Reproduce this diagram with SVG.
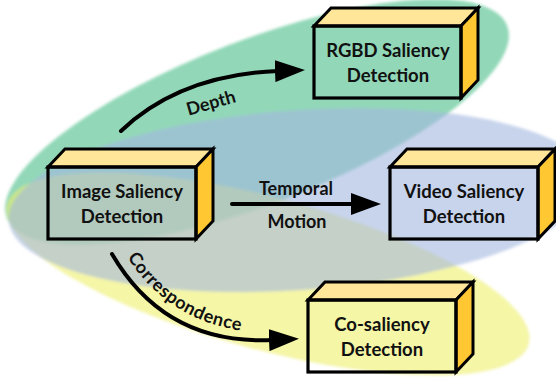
<svg xmlns="http://www.w3.org/2000/svg" width="556" height="379" viewBox="0 0 556 379">
<defs>
<style>
.top{fill:#ffe699;stroke:#000;stroke-width:3;stroke-linejoin:miter}
.side{fill:#ffc833;stroke:#000;stroke-width:3;stroke-linejoin:miter}
.front{fill:none;stroke:#000;stroke-width:3.2}
.lbl{font-family:Lato,"Open Sans","DejaVu Sans",sans-serif;font-weight:bold;font-size:18.5px;fill:#111;text-anchor:middle}
.edge{font-family:Lato,"Open Sans","DejaVu Sans",sans-serif;font-weight:bold;font-size:18px;fill:#111}
.conn{fill:none;stroke:#000;stroke-width:4;stroke-linecap:round}
</style>
<filter id="soft" x="-5%" y="-10%" width="110%" height="120%"><feGaussianBlur stdDeviation="1.5"/></filter>
<marker id="ah" markerUnits="userSpaceOnUse" viewBox="0 0 30 22" markerWidth="30" markerHeight="22" refX="3" refY="11" orient="auto">
<path d="M0,0 L30,11 L0,22 Z" fill="#000"/>
</marker>
</defs>
<g id="regions" filter="url(#soft)">
<ellipse cx="257" cy="122" rx="268" ry="82" transform="rotate(-21 257 122)" fill="#92d8b8"/>
<ellipse cx="268" cy="274" rx="270" ry="76" transform="rotate(15 268 274)" fill="#eef06a" fill-opacity="0.6"/>
<ellipse cx="299" cy="200" rx="291" ry="90" transform="rotate(-4 299 200)" fill="#a3b7df" fill-opacity="0.6"/>
</g>
<g id="connectors">
<path class="conn" d="M121,131 Q180,75 278,71" marker-end="url(#ah)"/>
<path class="conn" d="M232,204 L354,204" marker-end="url(#ah)"/>
<path class="conn" d="M112,254 Q165,345 272,340" marker-end="url(#ah)"/>
<path id="corrPath" d="M124,252 Q172,332 272,333" fill="none"/>
<text class="edge" transform="rotate(-16 211 103)" x="211" y="109" text-anchor="middle">Depth</text>
<text class="edge" x="296" y="195" text-anchor="middle">Temporal</text>
<text class="edge" x="297" y="228" text-anchor="middle">Motion</text>
<text class="edge" letter-spacing="0.6"><textPath href="#corrPath" startOffset="6">Correspondence</textPath></text>
</g>
<g id="image-saliency">
<path class="top" d="M48,167 L65,149 L213,149 L196,167 Z"/>
<path class="side" d="M196,167 L213,149 L213,221 L196,239 Z"/>
<rect class="front" x="48" y="167" width="148" height="72"/>
<text class="lbl" x="122" y="198">Image Saliency</text>
<text class="lbl" x="122" y="223">Detection</text>
</g>
<g id="rgbd-saliency">
<path class="top" d="M314,26 L331,8 L478,8 L461,26 Z"/>
<path class="side" d="M461,26 L478,8 L478,80 L461,98 Z"/>
<rect class="front" x="314" y="26" width="147" height="72"/>
<text class="lbl" x="388" y="57">RGBD Saliency</text>
<text class="lbl" x="388" y="82">Detection</text>
</g>
<g id="video-saliency">
<path class="top" d="M390,167 L407,149 L555,149 L538,167 Z"/>
<path class="side" d="M538,167 L555,149 L555,221 L538,239 Z"/>
<rect class="front" x="390" y="167" width="148" height="72"/>
<text class="lbl" x="464" y="198">Video Saliency</text>
<text class="lbl" x="464" y="223">Detection</text>
</g>
<g id="co-saliency">
<path class="top" d="M308,300 L325,282 L473,282 L456,300 Z"/>
<path class="side" d="M456,300 L473,282 L473,354 L456,372 Z"/>
<rect class="front" x="308" y="300" width="148" height="72"/>
<text class="lbl" x="382" y="331">Co-saliency</text>
<text class="lbl" x="382" y="356">Detection</text>
</g>
</svg>
